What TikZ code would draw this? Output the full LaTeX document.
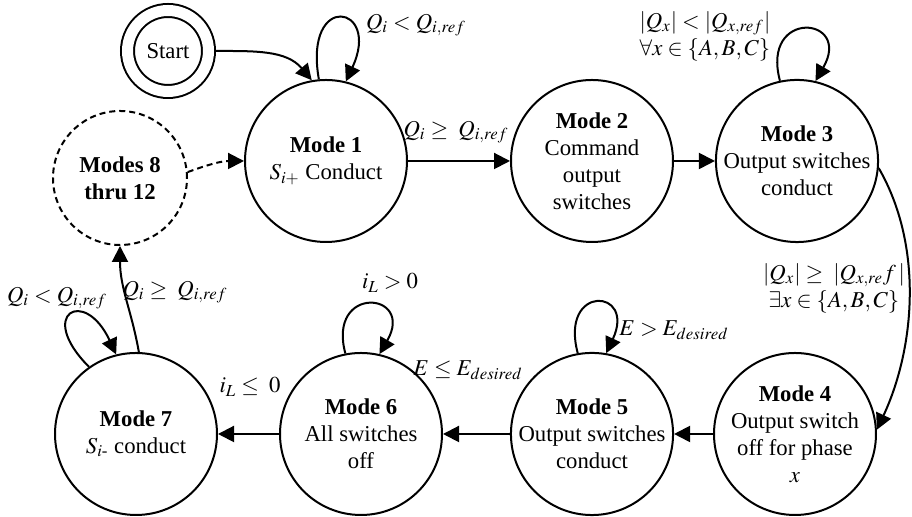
\documentclass[tikz,border=0pt]{standalone}
\usepackage{amsmath}
\usepackage{mathptmx}
\usepackage{fontspec}
\setmainfont{Liberation Serif}
\usetikzlibrary{arrows.meta}

\begin{document}
\begin{tikzpicture}[x=0.5pt, y=0.5pt, line width=1pt,
    >={Triangle[length=8pt,width=8pt]},
    font=\fontsize{11.35}{13.5}\selectfont,
    mode/.style={circle, draw, minimum size=81pt, inner sep=0pt, align=center},
    startstate/.style={circle, draw, double, double distance=5.5pt,
      minimum size=40.5pt, inner sep=0pt, outer sep=3.75pt},
    othermodes/.style={mode, dash pattern=on 3pt off 2pt, minimum size=67pt,
      font=\fontsize{11.35}{13.5}\selectfont\bfseries},
    guard/.style={inner sep=1pt, align=center}]

    % size of the page
      \useasboundingbox (0,0) rectangle (912,517);

    % Draw the modes, top row
      \node[startstate] (start) at (168,466) {Start};
      \node[othermodes] (m8) at (120,339) {Modes 8\\thru 12};
      \node[mode] (m1) at (326,356) {\textbf{Mode 1}\\$S_{i+}$ Conduct};
      \node[mode] (m2) at (592,356) {\textbf{Mode 2}\\Command\\output\\switches};
      \node[mode] (m3) at (797,356) {\textbf{Mode 3}\\Output switches\\conduct};
    % bottom row
      \node[mode] (m4) at (795,83) {\textbf{Mode 4}\\Output switch\\off for phase\\$x$};
      \node[mode] (m5) at (592,83) {\textbf{Mode 5}\\Output switches\\conduct};
      \node[mode] (m6) at (361,83) {\textbf{Mode 6}\\All switches\\off};
      \node[mode] (m7) at (136,83) {\textbf{Mode 7}\\$S_{i\text{-}}$ conduct};

    % Draw the transitions
      \draw[->] (start.east) to[out=0,in=130] (m1.100);
      \draw[->, dash pattern=on 3pt off 2pt] (m8.5) to[out=20,in=180] (m1.west);
      \draw[->] (m1) -- (m2);
      \draw[->] (m2) -- (m3);
      \draw[->] (m3.-5) .. controls +(-60:90) and +(65:90) .. (m4.3);
      \draw[->] (m4) -- (m5);
      \draw[->] (m5) -- (m6);
      \draw[->] (m6) -- (m7);
      \draw[->] (m7.88) to[out=100,in=-90] (m8.south);

    % Draw the self loops
      \draw[->] (m1.95) .. controls +(100:90) and +(65:85) .. (m1.76);
      \draw[->] (m3.102) .. controls +(105:75) and +(60:75) .. (m3.77);
      \draw[->] (m5.100) .. controls +(105:72) and +(65:72) .. (m5.80);
      \draw[->] (m6.101) .. controls +(105:72) and +(60:72) .. (m6.77);
      \draw[->] (m7.125) .. controls +(135:75) and +(115:75) .. (m7.104);

    % Draw the guard labels
      \node[guard] (g11) at (416,492) {$Q_i < Q_{i,ref}$};
      \node[guard] (g12) at (456,385) {$Q_i \geq\; Q_{i,ref}$};
      \node[guard] (g33) at (705,481) {$|Q_x| < |Q_{x,ref}|$\\$\forall x \in \{A,B,C\}$};
      \node[guard] (g34) at (834,229) {$|Q_x| \geq\; |Q_{x,re}f\,|$\\$\exists x \in \{A,B,C\}$};
      \node[guard] (g55) at (674,187) {$E > E_{desired}$};
      \node[guard] (g56) at (468,147) {$E \leq E_{desired}$};
      \node[guard] (g66) at (390,234) {$i_L > 0$};
      \node[guard] (g67) at (250,130) {$i_L \leq\; 0$};
      \node[guard] (g77) at (57,219) {$Q_i < Q_{i,ref}$};
      \node[guard] (g78) at (175,225) {$Q_i \geq\; Q_{i,ref}$};

\end{tikzpicture}
\end{document}
